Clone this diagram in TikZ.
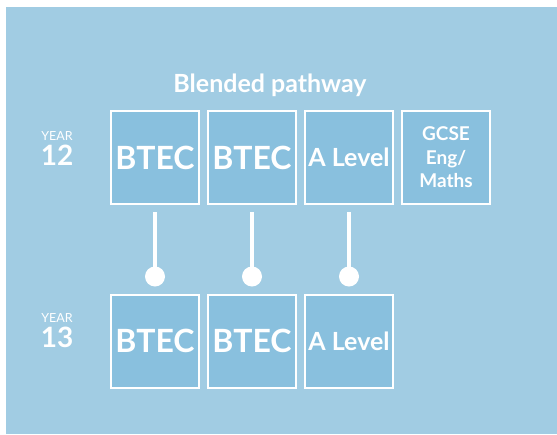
\documentclass[tikz,border=0pt]{standalone}
\usepackage{fontspec}
\setmainfont{Lato}
\usetikzlibrary{positioning}
\definecolor{bgblue}{RGB}{161,204,227}
\definecolor{boxblue}{RGB}{137,192,222}

\begin{document}
\begin{tikzpicture}[x=1pt, y=-1pt,
        course/.style={draw=white, line width=2pt, fill=boxblue, text=white,
            minimum width=88pt, minimum height=93pt, inner sep=0pt, align=center,
            font=\bfseries\fontsize{32}{36}\selectfont},
        alevel/.style={course, font=\bfseries\fontsize{25}{30}\selectfont},
        gcse/.style={course, font=\bfseries\fontsize{19}{23.5}\selectfont},
        link/.style={draw=white, line width=4pt},
        dot/.style={circle, fill=white, minimum size=20pt, inner sep=0pt},
        yearword/.style={text=white, anchor=base, font=\fontsize{12.5}{14}\selectfont},
        yearnum/.style={text=white, anchor=base, font=\bfseries\fontsize{28}{30}\selectfont}]
        \useasboundingbox (0,0) rectangle (557,434);
        \fill[bgblue] (6,7) rectangle (557,434);

        \node[text=white, font=\bfseries\fontsize{25}{30}\selectfont] (title) at (270,85) {Blended pathway};

        % year 12
        \node[course] (t1) at (155,157.5) {BTEC};
        \node[course, right=7pt of t1] (t2) {BTEC};
        \node[alevel, right=7pt of t2] (t3) {A Level};
        \node[gcse, right=7pt of t3] (t4) {GCSE\\Eng/\\Maths};

        % year 13
        \node[course] (b1) at (155,341) {BTEC};
        \node[course, right=7pt of b1] (b2) {BTEC};
        \node[alevel, right=7pt of b2] (b3) {A Level};

        \node[yearword] (y12) at (57,140) {YEAR};
        \node[yearnum] (n12) at (57,165.5) {12};
        \node[yearword] (y13) at (57,322) {YEAR};
        \node[yearnum] (n13) at (57,347) {13};

        \foreach \i in {1,2,3}
            \draw[link] ([yshift=-7pt]t\i.south) -- ([yshift=17pt]b\i.north) node[dot] (d\i) {};
    \end{tikzpicture}
\end{document}
